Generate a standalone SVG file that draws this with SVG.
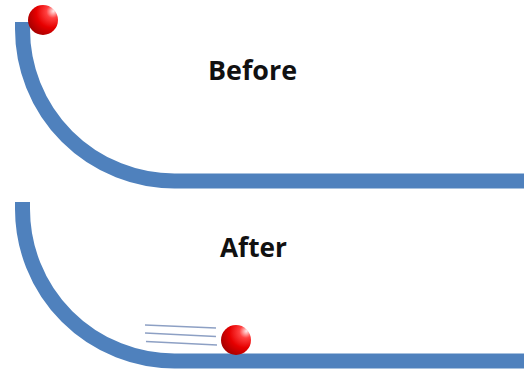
<svg xmlns="http://www.w3.org/2000/svg" width="524" height="369" viewBox="0 0 524 369">
  <style>
    .track { fill: none; stroke: #4f81bd; stroke-width: 15; stroke-linecap: butt; }
    .label { font-family: "Open Sans", "Liberation Sans", sans-serif; font-weight: bold; font-size: 26px; fill: #111; }
    .motion { stroke: #8da0c4; stroke-width: 1.3; fill: none; }
  </style>
  <defs>
    <radialGradient id="ballShade" cx="0.75" cy="0.28" r="0.85" fx="0.85" fy="0.2">
      <stop offset="0" stop-color="#ffecec"/>
      <stop offset="0.25" stop-color="#ff4040"/>
      <stop offset="0.6" stop-color="#e60000"/>
      <stop offset="1" stop-color="#a00000"/>
    </radialGradient>
  </defs>

  <!-- upper scene: ball resting at the top of the ramp -->
  <g id="track-before">
    <path class="track" d="M22.5,22 V29 A152,152 0 0 0 174.5,181 H524"/>
  </g>
  <g id="ball-before">
    <circle cx="43" cy="20" r="15" fill="url(#ballShade)"/>
  </g>
  <g id="label-before">
    <text class="label" x="208" y="80" textLength="89" lengthAdjust="spacingAndGlyphs">Before</text>
  </g>

  <!-- lower scene: ball rolling along the flat -->
  <g id="track-after">
    <path class="track" d="M22.5,202 V209 A152,152 0 0 0 174.5,361 H524"/>
  </g>
  <g id="motion-lines">
    <line class="motion" x1="145" y1="325" x2="216" y2="328"/>
    <line class="motion" x1="145" y1="333" x2="216" y2="336.5"/>
    <line class="motion" x1="146" y1="341.5" x2="217" y2="345"/>
  </g>
  <g id="ball-after">
    <circle cx="236" cy="340" r="15" fill="url(#ballShade)"/>
  </g>
  <g id="label-after">
    <text class="label" x="220" y="257" textLength="67" lengthAdjust="spacingAndGlyphs">After</text>
  </g>
</svg>
